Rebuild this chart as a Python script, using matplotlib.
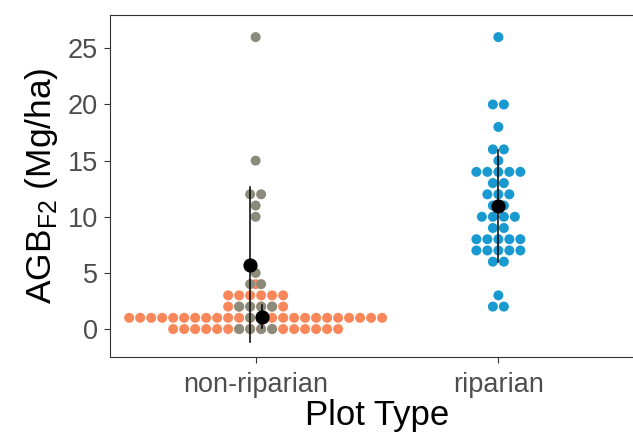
import numpy as np
import matplotlib
matplotlib.use("Agg")
import matplotlib.pyplot as plt

plt.rcParams["font.family"] = ["Liberation Sans", "DejaVu Sans"]

# ---- data (AGB values, stacked dots per integer bin) ----
categories = ["non-riparian", "riparian"]

# non-riparian, orange subgroup
nr_orange_levels = [0, 1, 2, 3, 4]
nr_orange_counts = [16, 24, 6, 6, 1]

# non-riparian, gray subgroup
nr_gray_levels = [0, 1, 2, 4, 5, 10, 11, 12, 15, 26]
nr_gray_counts = [4, 2, 4, 2, 1, 1, 1, 2, 1, 1]

# riparian
rip_levels = [2, 3, 6, 7, 8, 9, 10, 11, 12, 13, 14, 15, 16, 18, 20, 26]
rip_counts = [2, 1, 2, 5, 5, 2, 4, 2, 3, 2, 5, 1, 2, 1, 2, 1]

col_orange = "#FA875A"
col_gray = "#8B8B7C"
col_blue = "#1899CF"


def values(levels, counts):
    return np.repeat(np.array(levels, dtype=float), counts)


def stack_dots(ax, xc, levels, counts, color, dx=0.0453):
    for v, n in zip(levels, counts):
        xs = xc + (np.arange(n) - (n - 1) / 2.0) * dx
        ax.scatter(xs, np.full(n, v), s=52, color=color, edgecolors="none", zorder=2)


def mean_sd(ax, x, vals):
    m = vals.mean()
    sd = vals.std(ddof=1)
    ax.plot([x, x], [m - sd, m + sd], color="black", lw=1.1, zorder=4)
    ax.scatter([x], [m], s=85, color="black", zorder=5)


fig = plt.figure(figsize=(6.33, 4.34), dpi=100)
ax = fig.add_axes([110 / 633, 77 / 434, 534 / 633, 342 / 434])

stack_dots(ax, 1, nr_orange_levels, nr_orange_counts, col_orange)
stack_dots(ax, 1, nr_gray_levels, nr_gray_counts, col_gray)
stack_dots(ax, 2, rip_levels, rip_counts, col_blue)

mean_sd(ax, 0.975, values(nr_gray_levels, nr_gray_counts))
mean_sd(ax, 1.025, values(nr_orange_levels, nr_orange_counts))
mean_sd(ax, 2, values(rip_levels, rip_counts))

ax.set_xlim(0.4, 2.6)
ax.set_ylim(-2.49, 27.97)
ax.set_xticks([1, 2])
ax.set_xticklabels(categories)
ax.set_yticks([0, 5, 10, 15, 20, 25])

for s in ax.spines.values():
    s.set_color("#333333")
    s.set_linewidth(0.8)
ax.tick_params(axis="both", colors="#333333", length=4.5, width=0.8,
               labelcolor="#4D4D4D", labelsize=19.5)
ax.tick_params(axis="y", pad=4)
ax.tick_params(axis="x", pad=6)

ax.set_xlabel("Plot Type", fontsize=25, labelpad=1)
ax.set_ylabel(r"AGB$_{\mathregular{F2}}$ (Mg/ha)", fontsize=25.5, labelpad=6)

fig.savefig("out.png", dpi=100)
